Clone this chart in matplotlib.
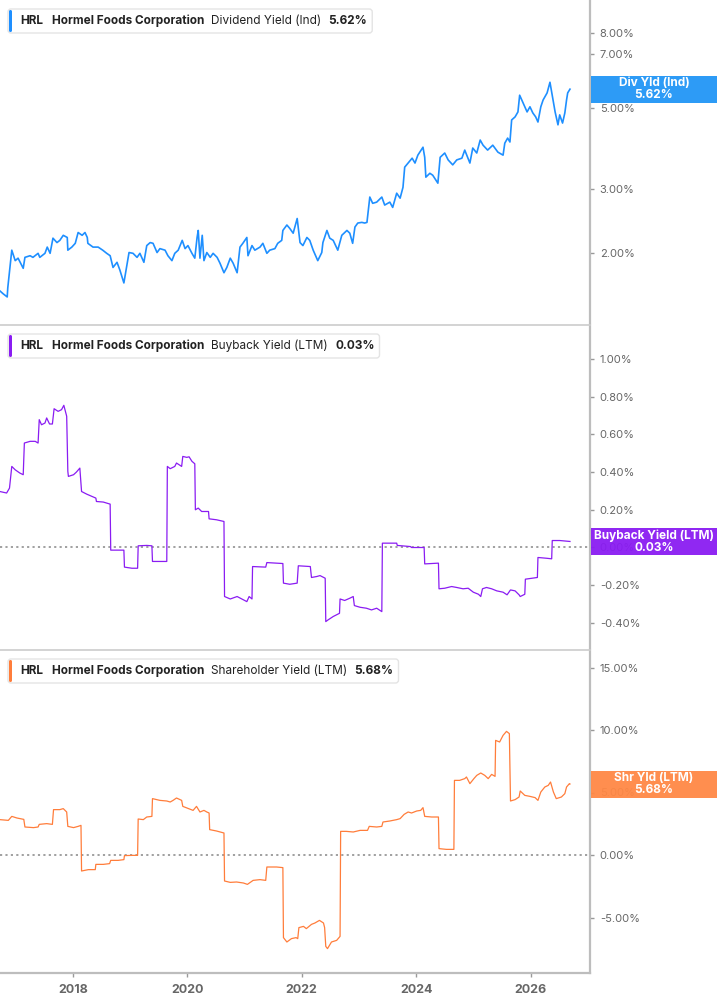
import matplotlib
matplotlib.use("Agg")
import matplotlib.pyplot as plt
from matplotlib.patches import Rectangle, FancyBboxPatch
from matplotlib.transforms import IdentityTransform
from matplotlib.ticker import FixedLocator, FuncFormatter, NullLocator

plt.rcParams['font.family'] = ['Inter', 'DejaVu Sans']

# dividend yield (ind), %
div_years = [2016.72, 2016.78, 2016.85, 2016.86, 2016.93, 2016.99, 2017.04, 2017.13, 2017.16, 2017.25,
             2017.30, 2017.39, 2017.42, 2017.51, 2017.55, 2017.60, 2017.65, 2017.72, 2017.77, 2017.83,
             2017.90, 2017.91, 2017.98, 2018.04, 2018.09, 2018.16, 2018.21, 2018.25, 2018.26, 2018.35,
             2018.44, 2018.52, 2018.59, 2018.65, 2018.70, 2018.77, 2018.82, 2018.89, 2018.94, 2018.98,
             2019.05, 2019.12, 2019.17, 2019.24, 2019.29, 2019.35, 2019.40, 2019.47, 2019.52, 2019.61,
             2019.66, 2019.73, 2019.78, 2019.84, 2019.91, 2019.96, 2020.01, 2020.08, 2020.13, 2020.17,
             2020.19, 2020.22, 2020.26, 2020.29, 2020.34, 2020.40, 2020.45, 2020.52, 2020.57, 2020.64,
             2020.69, 2020.75, 2020.80, 2020.87, 2020.92, 2020.97, 2021.04, 2021.06, 2021.13, 2021.18,
             2021.27, 2021.32, 2021.39, 2021.44, 2021.53, 2021.58, 2021.65, 2021.67, 2021.74, 2021.79,
             2021.85, 2021.92, 2021.97, 2022.02, 2022.09, 2022.14, 2022.20, 2022.28, 2022.35, 2022.37,
             2022.44, 2022.49, 2022.55, 2022.63, 2022.70, 2022.79, 2022.84, 2022.89, 2022.93, 2022.98,
             2023.05, 2023.10, 2023.14, 2023.19, 2023.24, 2023.31, 2023.40, 2023.45, 2023.54, 2023.59,
             2023.66, 2023.72, 2023.77, 2023.80, 2023.86, 2023.93, 2023.98, 2024.03, 2024.12, 2024.15,
             2024.17, 2024.24, 2024.29, 2024.38, 2024.42, 2024.50, 2024.56, 2024.64, 2024.71, 2024.80,
             2024.85, 2024.94, 2024.99, 2025.06, 2025.12, 2025.17, 2025.25, 2025.34, 2025.43, 2025.52,
             2025.55, 2025.60, 2025.64, 2025.67, 2025.73, 2025.78, 2025.81, 2025.87, 2025.94, 2025.99,
             2026.04, 2026.09, 2026.13, 2026.18, 2026.22, 2026.29, 2026.34, 2026.37, 2026.43, 2026.48,
             2026.51, 2026.56, 2026.60, 2026.63, 2026.65, 2026.69]
div_vals = [1.58, 1.55, 1.52, 1.61, 2.04, 1.91, 1.94, 1.82, 1.95, 1.97,
            1.95, 2.00, 1.95, 2.00, 2.08, 2.00, 2.20, 2.14, 2.17, 2.24,
            2.21, 2.04, 2.08, 2.13, 2.28, 2.24, 2.28, 2.21, 2.13, 2.08,
            2.08, 2.04, 2.00, 1.97, 1.83, 1.89, 1.80, 1.66, 1.85, 2.01,
            2.00, 1.95, 2.00, 1.89, 2.10, 2.14, 2.13, 2.01, 2.06, 2.04,
            1.97, 1.91, 2.00, 2.04, 2.17, 2.06, 2.10, 2.00, 1.94, 2.21,
            2.31, 1.94, 2.24, 1.91, 2.01, 1.95, 2.00, 1.95, 1.88, 1.77,
            1.83, 1.94, 1.88, 1.77, 2.08, 2.13, 2.21, 1.97, 2.10, 2.04,
            2.08, 2.13, 2.00, 2.04, 2.06, 2.13, 2.17, 2.31, 2.39, 2.34,
            2.27, 2.49, 2.14, 2.10, 2.21, 2.17, 2.04, 1.91, 2.01, 2.14,
            2.31, 2.20, 2.17, 2.04, 2.24, 2.31, 2.27, 2.13, 2.36, 2.42,
            2.43, 2.42, 2.43, 2.85, 2.74, 2.76, 2.85, 2.71, 2.76, 2.67,
            2.92, 2.83, 3.03, 3.44, 3.53, 3.64, 3.53, 3.71, 3.90, 3.66,
            3.23, 3.31, 3.27, 3.11, 3.66, 3.76, 3.60, 3.49, 3.60, 3.64,
            3.83, 3.53, 3.88, 3.76, 4.08, 3.95, 3.83, 3.95, 3.78, 3.71,
            4.00, 4.13, 4.03, 4.63, 4.72, 4.87, 5.41, 5.15, 4.87, 5.03,
            4.84, 4.72, 4.57, 5.03, 5.25, 5.49, 5.87, 5.52, 4.87, 4.49,
            4.78, 4.54, 4.84, 5.25, 5.49, 5.62]

# buyback yield (ltm), %
bb_years = [2016.72, 2016.84, 2016.89, 2016.93, 2016.99, 2017.07, 2017.13, 2017.15, 2017.25, 2017.34,
            2017.39, 2017.41, 2017.45, 2017.51, 2017.54, 2017.59, 2017.64, 2017.67, 2017.74, 2017.80,
            2017.84, 2017.89, 2017.91, 2017.92, 2018.01, 2018.06, 2018.12, 2018.15, 2018.24, 2018.33,
            2018.40, 2018.41, 2018.53, 2018.65, 2018.66, 2018.89, 2018.90, 2019.03, 2019.13, 2019.14,
            2019.29, 2019.38, 2019.39, 2019.64, 2019.65, 2019.70, 2019.78, 2019.81, 2019.90, 2019.92,
            2019.99, 2020.03, 2020.08, 2020.13, 2020.14, 2020.19, 2020.25, 2020.37, 2020.38, 2020.51,
            2020.64, 2020.65, 2020.75, 2020.87, 2020.95, 2021.04, 2021.08, 2021.13, 2021.14, 2021.37,
            2021.39, 2021.67, 2021.68, 2021.79, 2021.92, 2021.94, 2022.15, 2022.17, 2022.26, 2022.32,
            2022.41, 2022.42, 2022.46, 2022.55, 2022.66, 2022.67, 2022.75, 2022.84, 2022.90, 2022.92,
            2023.02, 2023.13, 2023.22, 2023.31, 2023.40, 2023.41, 2023.66, 2023.67, 2023.90, 2023.92,
            2024.14, 2024.15, 2024.39, 2024.40, 2024.50, 2024.62, 2024.71, 2024.82, 2024.91, 2025.00,
            2025.09, 2025.13, 2025.16, 2025.23, 2025.32, 2025.41, 2025.52, 2025.59, 2025.65, 2025.73,
            2025.80, 2025.82, 2025.90, 2025.91, 2026.02, 2026.12, 2026.13, 2026.28, 2026.37, 2026.38,
            2026.51, 2026.69]
bb_vals = [0.297, 0.289, 0.315, 0.430, 0.412, 0.395, 0.386, 0.554, 0.563, 0.563,
           0.554, 0.678, 0.651, 0.660, 0.687, 0.655, 0.655, 0.736, 0.722, 0.731,
           0.754, 0.696, 0.404, 0.377, 0.386, 0.400, 0.421, 0.297, 0.283, 0.271,
           0.262, 0.244, 0.241, 0.230, -0.014, -0.014, -0.104, -0.110, -0.110, 0.009,
           0.011, 0.009, -0.074, -0.074, 0.430, 0.418, 0.430, 0.448, 0.430, 0.483,
           0.478, 0.481, 0.457, 0.444, 0.200, 0.209, 0.191, 0.191, 0.152, 0.147,
           0.138, -0.260, -0.273, -0.260, -0.273, -0.287, -0.260, -0.273, -0.101, -0.104,
           -0.080, -0.085, -0.189, -0.195, -0.189, -0.097, -0.101, -0.159, -0.154, -0.149,
           -0.163, -0.393, -0.384, -0.366, -0.349, -0.273, -0.281, -0.269, -0.260, -0.308,
           -0.317, -0.322, -0.331, -0.322, -0.340, 0.023, 0.023, 0.011, 0.005, 0.000,
           0.000, -0.087, -0.083, -0.219, -0.216, -0.207, -0.212, -0.219, -0.216, -0.237,
           -0.248, -0.260, -0.219, -0.212, -0.219, -0.230, -0.237, -0.251, -0.225, -0.230,
           -0.251, -0.260, -0.248, -0.168, -0.163, -0.159, -0.053, -0.057, -0.060, 0.037,
           0.037, 0.032]

# shareholder yield (ltm), %
shr_years = [2016.72, 2016.87, 2016.93, 2017.02, 2017.14, 2017.16, 2017.31, 2017.39, 2017.41, 2017.54,
             2017.64, 2017.66, 2017.77, 2017.83, 2017.89, 2017.91, 2018.01, 2018.09, 2018.14, 2018.15,
             2018.27, 2018.39, 2018.40, 2018.53, 2018.64, 2018.66, 2018.79, 2018.89, 2018.90, 2019.03,
             2019.13, 2019.14, 2019.23, 2019.29, 2019.38, 2019.39, 2019.52, 2019.64, 2019.70, 2019.75,
             2019.81, 2019.90, 2019.92, 2020.02, 2020.10, 2020.16, 2020.22, 2020.29, 2020.34, 2020.38,
             2020.39, 2020.51, 2020.64, 2020.65, 2020.75, 2020.86, 2020.98, 2021.05, 2021.15, 2021.27,
             2021.37, 2021.39, 2021.56, 2021.67, 2021.68, 2021.74, 2021.82, 2021.90, 2021.93, 2021.95,
             2022.03, 2022.08, 2022.17, 2022.23, 2022.31, 2022.38, 2022.40, 2022.42, 2022.45, 2022.52,
             2022.61, 2022.67, 2022.68, 2022.78, 2022.90, 2023.02, 2023.15, 2023.18, 2023.31, 2023.40,
             2023.42, 2023.54, 2023.66, 2023.72, 2023.79, 2023.86, 2023.92, 2024.01, 2024.08, 2024.12,
             2024.15, 2024.27, 2024.39, 2024.40, 2024.53, 2024.66, 2024.67, 2024.76, 2024.85, 2024.88,
             2024.94, 2025.01, 2025.06, 2025.13, 2025.20, 2025.26, 2025.32, 2025.38, 2025.39, 2025.46,
             2025.52, 2025.58, 2025.63, 2025.65, 2025.73, 2025.80, 2025.82, 2025.90, 2025.99, 2026.08,
             2026.13, 2026.18, 2026.25, 2026.31, 2026.35, 2026.40, 2026.45, 2026.54, 2026.60, 2026.63,
             2026.68, 2026.69]
shr_vals = [2.83, 2.77, 3.09, 2.96, 2.85, 2.24, 2.19, 2.24, 2.45, 2.51,
            2.45, 3.63, 3.63, 3.71, 3.44, 2.29, 2.19, 2.29, 2.37, -1.28,
            -1.17, -1.17, -0.75, -0.75, -0.69, -0.43, -0.43, -0.37, -0.05, -0.03,
            -0.03, 2.88, 2.83, 3.04, 3.09, 4.51, 4.37, 4.32, 4.24, 4.37,
            4.56, 4.37, 3.89, 3.71, 3.57, 3.89, 3.44, 3.57, 3.44, 3.36,
            2.03, 1.92, 1.76, -2.08, -2.19, -2.16, -2.24, -2.35, -2.03, -1.97,
            -2.03, -0.96, -0.96, -1.01, -6.61, -6.96, -6.69, -6.61, -6.69, -5.81,
            -5.71, -5.89, -5.55, -5.44, -5.23, -5.44, -5.81, -7.31, -7.49, -6.96,
            -6.83, -6.51, 1.89, 1.89, 1.84, 1.97, 1.97, 2.29, 2.24, 2.29,
            2.64, 2.72, 2.83, 2.91, 3.25, 3.44, 3.36, 3.52, 3.57, 3.79,
            3.09, 3.04, 3.04, 0.51, 0.45, 0.45, 5.97, 5.97, 6.11, 6.24,
            5.71, 6.11, 6.37, 6.56, 6.37, 6.11, 6.45, 6.29, 9.17, 9.04,
            9.57, 9.89, 9.71, 4.32, 4.43, 4.64, 5.12, 4.77, 4.69, 4.59,
            4.37, 5.04, 5.44, 5.57, 5.84, 5.04, 4.51, 4.64, 4.91, 5.44,
            5.71, 5.68]

ticker = "HRL"
company = "Hormel Foods Corporation"
metrics = ["Dividend Yield (Ind)", "Buyback Yield (LTM)", "Shareholder Yield (LTM)"]
tags = ["Div Yld (Ind)", "Buyback Yield (LTM)", "Shr Yld (LTM)"]
last_vals = [5.62, 0.03, 5.68]
year_ticks = [2018, 2020, 2022, 2024, 2026]
div_ticks = [2, 3, 5, 7, 8]
bb_ticks = [-0.4, -0.2, 0.0, 0.2, 0.4, 0.6, 0.8, 1.0]
shr_ticks = [-5, 0, 5, 10, 15]

colors = ['#1e8fff', '#8a1cf2', '#ff7d3b']
box_colors = ['#2196f6', '#8a1cf2', '#ff8845']

W, H = 717, 1005
fig = plt.figure(figsize=(W / 100, H / 100), dpi=100)


def rect(x0, y0, x1, y1):
    return [x0 / W, 1 - y1 / H, (x1 - x0) / W, (y1 - y0) / H]


tops = [0, 325, 650]
ax1 = fig.add_axes(rect(0, 0, 590, 323))
ax2 = fig.add_axes(rect(0, 325, 590, 648))
ax3 = fig.add_axes(rect(0, 650, 590, 973))
axes = [ax1, ax2, ax3]

ax1.plot(div_years, div_vals, color=colors[0], lw=1.2)
ax2.plot(bb_years, bb_vals, color=colors[1], lw=0.9)
ax3.plot(shr_years, shr_vals, color=colors[2], lw=0.9)

ax1.set_yscale('log')
ax1.set_ylim(1.29, 9.85)
ax2.set_ylim(-0.533, 1.18)
ax3.set_ylim(-9.44, 16.4)
for ax in (ax2, ax3):
    ax.axhline(0, color='#999999', lw=1.3, ls=(0, (1.2, 1.8)), zorder=1)

for ax, ticks in zip(axes, [div_ticks, bb_ticks, shr_ticks]):
    ax.set_xlim(2016.724, 2027.04)
    ax.yaxis.tick_right()
    ax.yaxis.set_major_locator(FixedLocator(ticks))
    ax.yaxis.set_minor_locator(NullLocator())
    ax.yaxis.set_major_formatter(FuncFormatter(lambda v, p: f"{v:.2f}%"))
    ax.tick_params(axis='y', which='both', length=3, width=1, color='#999999',
                   labelcolor='#666666', labelsize=8, pad=4)
    ax.set_xticks(year_ticks)
    ax.tick_params(axis='x', length=0, labelbottom=False)
    ax.spines['left'].set_visible(False)
    ax.spines['bottom'].set_visible(False)
    ax.spines['right'].set_color('#bdbdbd')
    ax.spines['right'].set_linewidth(1.6)
    ax.spines['top'].set_color('#cccccc')
    ax.spines['top'].set_linewidth(1.2)
ax1.spines['top'].set_visible(False)
ax3.spines['bottom'].set_visible(True)
ax3.spines['bottom'].set_color('#bdbdbd')
ax3.spines['bottom'].set_linewidth(1.6)
ax3.tick_params(axis='x', length=3, width=1, color='#999999', labelbottom=True,
                labelcolor='#666666', labelsize=9, pad=5)
for lab in ax3.get_xticklabels():
    lab.set_fontweight('bold')

ident = IdentityTransform()
r = fig.canvas.get_renderer()

# current value tags on the right
for ax, tag, val, bc in zip(axes, tags, last_vals, box_colors):
    yd = ax.transData.transform((2020, val))[1]
    fig.add_artist(Rectangle((591, yd - 13.5), 126, 27, transform=ident,
                             facecolor=bc, edgecolor='none', alpha=0.95, zorder=5))
    fig.text(654, yd, f"{tag}\n{val:.2f}%", transform=ident, ha='center', va='center',
             color='white', fontsize=8.5, fontweight='bold', linespacing=1.0, zorder=6)

# legend boxes
for top, metric, val, c in zip(tops, metrics, last_vals, colors):
    yc = H - (top + 21)
    x = 20
    parts = [(ticker, 'bold', 9), (company, 'bold', 7), (metric, 'normal', 7), (f"{val:.2f}%", 'bold', 0)]
    for txt, wt, gap in parts:
        t = fig.text(x, yc, txt, transform=ident, ha='left', va='center', color='#222222',
                     fontsize=8.5, fontweight=wt, zorder=6)
        x = t.get_window_extent(renderer=r).x1 + gap
    fig.add_artist(FancyBboxPatch((8, yc - 12), x + 5 - 8, 24, transform=ident,
                                  boxstyle='round,pad=0,rounding_size=3',
                                  facecolor='white', edgecolor='#e4e4e4', lw=1, zorder=4))
    fig.add_artist(FancyBboxPatch((9, yc - 11), 3, 22, transform=ident,
                                  boxstyle='round,pad=0,rounding_size=1.5',
                                  facecolor=c, edgecolor='none', zorder=5))

fig.savefig('out.png', dpi=100)
